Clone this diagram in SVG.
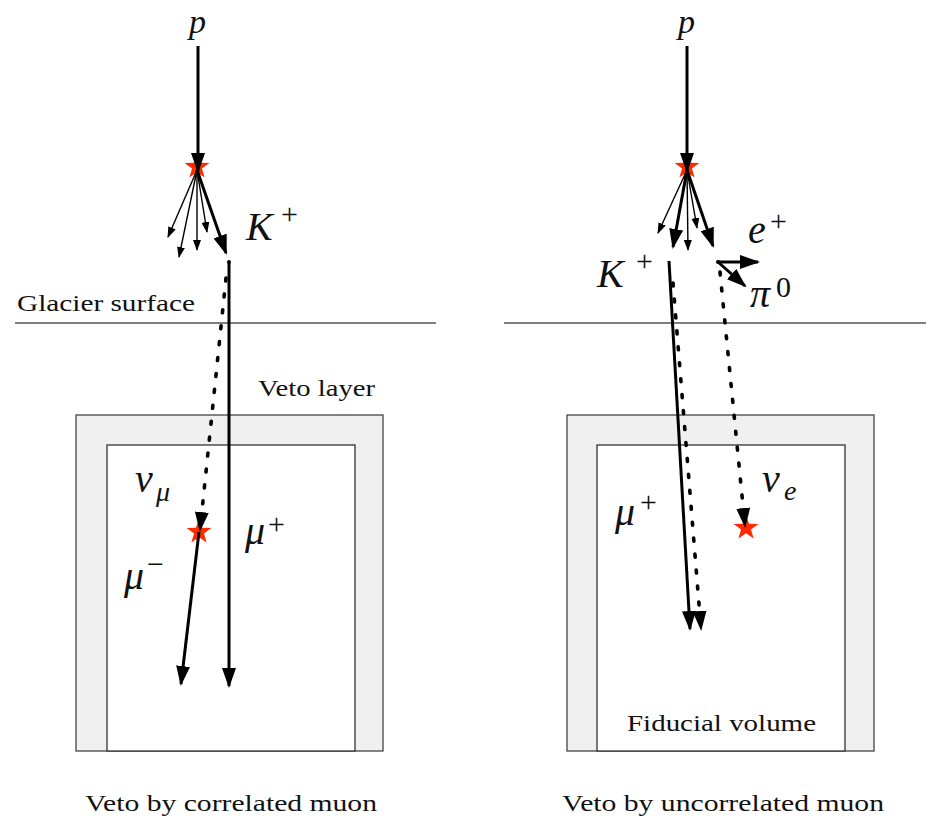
<svg xmlns="http://www.w3.org/2000/svg" width="932" height="820" viewBox="0 0 932 820">
<style>
.txt{font-family:"Liberation Serif","DejaVu Serif",serif;font-size:24px;fill:#111}
.m{font-family:"Liberation Serif","DejaVu Serif",serif;font-style:italic;font-size:40px;fill:#111}
.pp{font-family:"Liberation Serif","DejaVu Serif",serif;font-style:italic;font-size:34px;fill:#111}
.s{font-family:"Liberation Serif","DejaVu Serif",serif;font-size:30px;fill:#111}
.si{font-family:"Liberation Serif","DejaVu Serif",serif;font-style:italic;font-size:28px;fill:#111}
.thick{stroke:#000;stroke-width:3;fill:none;marker-end:url(#ah)}
.thin{stroke:#000;stroke-width:1.4;fill:none;marker-end:url(#as)}
.dot{stroke:#000;stroke-width:3.6;fill:none;stroke-dasharray:3 13;stroke-linecap:round;marker-end:url(#ah)}
.ground{stroke:#555;stroke-width:1.3}
.outer{fill:#f0f0f0;stroke:#444;stroke-width:1.3}
.inner{fill:#fff;stroke:#333;stroke-width:1.3}
.star{fill:#ff2a00}
</style>
<defs>
<marker id="ah" viewBox="0 0 20 14" refX="18" refY="7" markerWidth="20" markerHeight="14" markerUnits="userSpaceOnUse" orient="auto"><path d="M0,0 L20,7 L0,14 z" style="fill:#000;stroke:none"/></marker>
<marker id="as" viewBox="0 0 11 8" refX="10" refY="4" markerWidth="11" markerHeight="8" markerUnits="userSpaceOnUse" orient="auto"><path d="M0,0 L11,4 L0,8 z" style="fill:#000;stroke:none"/></marker>
<path id="starshape" d="M0,-13 L3.06,-4.21 L12.36,-4.02 L4.95,1.61 L7.64,10.52 L0,5.2 L-7.64,10.52 L-4.95,1.61 L-12.36,-4.02 L-3.06,-4.21 Z"/>
</defs>

<g id="ground">
<line class="ground" x1="15" y1="323" x2="436" y2="323"/>
<line class="ground" x1="504" y1="323" x2="926" y2="323"/>
<text class="txt" x="17" y="311" textLength="178" lengthAdjust="spacingAndGlyphs">Glacier surface</text>
</g>

<g id="detector-left">
<rect class="outer" x="76" y="415" width="307" height="336"/>
<rect class="inner" x="107" y="445" width="248" height="306"/>
<text class="txt" x="258" y="396" textLength="117" lengthAdjust="spacingAndGlyphs">Veto layer</text>
</g>
<g id="detector-right">
<rect class="outer" x="567" y="415" width="307" height="336"/>
<rect class="inner" x="597" y="445" width="248" height="306"/>
<text class="txt" x="627" y="731" textLength="189" lengthAdjust="spacingAndGlyphs">Fiducial volume</text>
</g>

<g id="stars">
<use href="#starshape" class="star" transform="translate(197,167)"/>
<use href="#starshape" class="star" transform="translate(199,532)"/>
<use href="#starshape" class="star" transform="translate(687,167)"/>
<use href="#starshape" class="star" transform="translate(746,528)"/>
</g>

<g id="connectors">
<line class="thick" x1="198" y1="46" x2="198" y2="171"/>
<line class="thin" x1="197" y1="170" x2="168" y2="237"/>
<line class="thin" x1="197" y1="170" x2="179" y2="257"/>
<line class="thin" x1="197" y1="170" x2="197" y2="250"/>
<line class="thin" x1="197" y1="170" x2="207" y2="232"/>
<line class="thick" x1="197" y1="170" x2="226" y2="253"/>
<circle cx="229" cy="262" r="2" fill="#000"/>
<line class="thick" x1="229" y1="262" x2="229" y2="686"/>
<line class="dot" x1="226" y1="278" x2="200" y2="530"/>
<line class="thick" x1="199" y1="532" x2="181" y2="684"/>
<line class="thick" x1="687" y1="46" x2="687" y2="171"/>
<line class="thin" x1="687" y1="170" x2="658" y2="233"/>
<line class="thin" x1="687" y1="170" x2="688" y2="250"/>
<line class="thin" x1="687" y1="170" x2="697" y2="228"/>
<line class="thick" x1="687" y1="170" x2="673" y2="247"/>
<line class="thick" x1="687" y1="170" x2="713" y2="246"/>
<circle cx="718" cy="262" r="2" fill="#000"/>
<line class="thick" x1="718" y1="262" x2="758" y2="262"/>
<line class="thick" x1="718" y1="262" x2="745" y2="286"/>
<line class="thick" x1="669" y1="261" x2="690" y2="629"/>
<line class="dot" x1="673" y1="283" x2="701" y2="629"/>
<line class="dot" x1="720" y1="272" x2="745" y2="526"/>
</g>

<g id="labels">
<text class="pp" x="189" y="33">p</text>
<text class="pp" x="678" y="33">p</text>
<text class="m" x="246" y="240">K</text>
<text class="s" x="281" y="224">+</text>
<text class="m" x="135" y="492">ν</text>
<text class="si" x="156" y="501">μ</text>
<text class="m" x="245" y="544">μ</text>
<text class="s" x="268" y="534">+</text>
<text class="m" x="124" y="589">μ</text>
<text class="s" x="147" y="574">−</text>
<text class="m" x="597" y="287">K</text>
<text class="s" x="636" y="271">+</text>
<text class="m" x="748" y="243">e</text>
<text class="s" x="770" y="231">+</text>
<text class="m" x="750" y="307">π</text>
<text class="s" x="776" y="297">0</text>
<text class="m" x="615" y="525">μ</text>
<text class="s" x="640" y="512">+</text>
<text class="m" x="762" y="492">ν</text>
<text class="si" x="784" y="500">e</text>
<text class="txt" x="85" y="811" textLength="292" lengthAdjust="spacingAndGlyphs">Veto by correlated muon</text>
<text class="txt" x="562" y="811" textLength="322" lengthAdjust="spacingAndGlyphs">Veto by uncorrelated muon</text>
</g>
</svg>
